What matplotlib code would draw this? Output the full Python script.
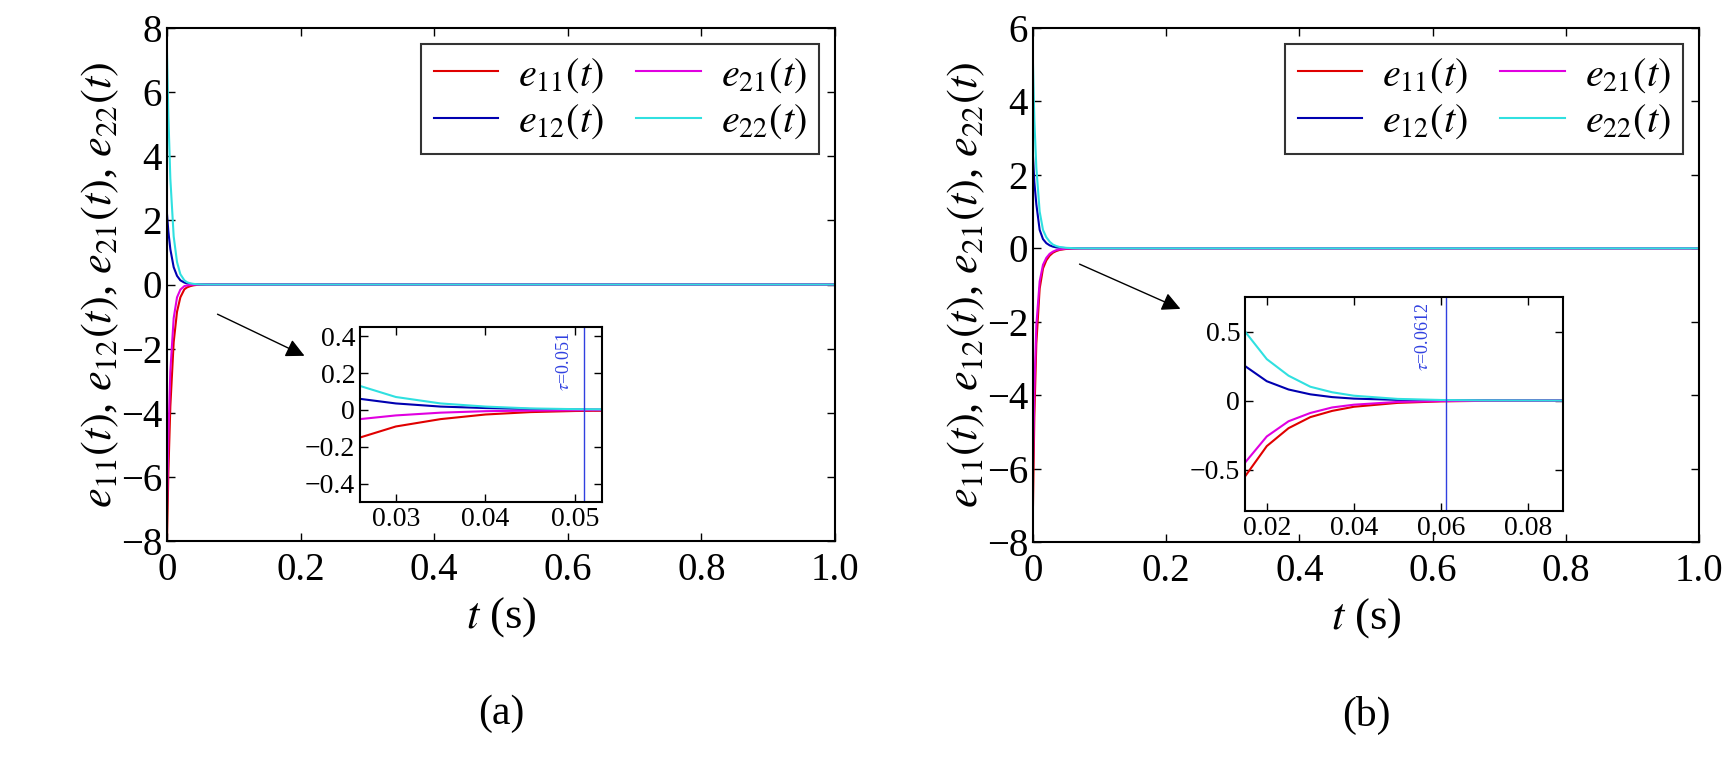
import matplotlib
matplotlib.use("Agg")
import matplotlib.pyplot as plt

plt.rcParams['font.family'] = ['Liberation Serif', 'DejaVu Serif']
plt.rcParams['mathtext.fontset'] = 'stix'

# Panel (a) sampled data
ta = [0, .002, .005, .01, .015, .02, .026, .03, .035, .04, .045, .05, .06, .09, 1.0]
a_e11 = [-8, -5.9, -3.8, -1.8, -0.85, -0.4, -0.15, -0.09, -0.05, -0.025, -0.012, -0.006, -0.001, 0, 0]
a_e21 = [-7, -4.8, -2.7, -1.05, -0.4, -0.16, -0.05, -0.03, -0.015, -0.007, -0.004, -0.002, 0, 0, 0]
a_e12 = [2.2, 1.66, 1.1, 0.54, 0.27, 0.13, 0.06, 0.035, 0.018, 0.01, 0.005, 0.002, 0, 0, 0]
a_e22 = [7.2, 5.3, 3.3, 1.5, 0.7, 0.32, 0.13, 0.07, 0.035, 0.018, 0.008, 0.004, 0, 0, 0]
tau_a = 0.051

# Panel (b) sampled data
tb = [0, .002, .005, .01, .015, .02, .025, .03, .035, .04, .05, .06, .07, .09, 1.0]
b_e11 = [-7, -4.6, -2.6, -1.1, -0.55, -0.33, -0.2, -0.12, -0.075, -0.045, -0.017, -0.006, -0.002, 0, 0]
b_e21 = [-6, -3.9, -2.1, -0.9, -0.45, -0.26, -0.15, -0.09, -0.05, -0.03, -0.01, -0.004, -0.001, 0, 0]
b_e12 = [2.5, 1.8, 1.2, 0.5, 0.25, 0.14, 0.08, 0.045, 0.025, 0.014, 0.005, 0.002, 0.001, 0, 0]
b_e22 = [5, 3.5, 2.2, 1.0, 0.5, 0.3, 0.18, 0.1, 0.06, 0.035, 0.012, 0.004, 0.001, 0, 0]
tau_b = 0.0612

colors = {'e11': '#e00000', 'e12': '#0000b0', 'e21': '#e000e0', 'e22': '#30e0e0'}
labels = {'e11': r'$e_{11}(t)$', 'e12': r'$e_{12}(t)$', 'e21': r'$e_{21}(t)$', 'e22': r'$e_{22}(t)$'}
W, H = 1732, 757
fig = plt.figure(figsize=(W/100, H/100), dpi=100)

def px(l, t, r, b):
    return [l/W, 1-b/H, (r-l)/W, (b-t)/H]

def style(ax, size):
    ax.tick_params(direction='in', top=True, right=True, labelsize=size, length=6, width=1)
    for s in ax.spines.values():
        s.set_linewidth(1.5)

def panel(rect, inrect, t, data, ylim, yticks, inxlim, inylim, inxt, inyt, inxtl, tau, taulab, arrow, letter, inlabel):
    ax = fig.add_axes(px(*rect))
    for k in ['e11', 'e12', 'e21', 'e22']:
        ax.plot(t, data[k], color=colors[k], lw=1.5, label=labels[k])
    ax.set_xlim(0, 1.0)
    ax.set_ylim(*ylim)
    ax.set_yticks(yticks)
    ax.set_yticklabels([str(v).replace('-', '\u2212') for v in yticks])
    ax.set_xticks([0, 0.2, 0.4, 0.6, 0.8, 1.0])
    ax.set_xticklabels(['0', '0.2', '0.4', '0.6', '0.8', '1.0'])
    style(ax, 28)
    ax.tick_params(axis='x', pad=8)
    ax.legend(ncol=2, loc='upper right',
              fontsize=29, frameon=True, fancybox=False, edgecolor='black',
              handlelength=1.6, handletextpad=0.5, columnspacing=0.8, borderaxespad=0.4,
              labelspacing=0.2, borderpad=0.3
              ).get_frame().set_linewidth(1.5)
    ax.set_xlabel(r'$t$ (s)', fontsize=32, labelpad=4)
    ax.set_ylabel(r'$e_{11}(t)$, $e_{12}(t)$, $e_{21}(t)$, $e_{22}(t)$', fontsize=32, labelpad=0)
    ax.text(0.5, -0.3, letter, transform=ax.transAxes, ha='center', va='top', fontsize=30)
    ax.annotate('', xy=arrow[1], xytext=arrow[0], xycoords='figure pixels',
                arrowprops=dict(arrowstyle='-|>', color='black', lw=1, mutation_scale=28))
    ia = fig.add_axes(px(*inrect))
    for k in ['e11', 'e12', 'e21', 'e22']:
        ia.plot(t, data[k], color=colors[k], lw=1.5)
    ia.axvline(tau, color='#3040e0', lw=1)
    ia.text(tau - 0.0012*(inxlim[1]-inxlim[0])/0.027, inylim[1] - 0.03*(inylim[1]-inylim[0]), taulab,
            rotation=90, color='#3040e0', fontsize=13, ha='right', va='top')
    ia.set_xlim(*inxlim)
    ia.set_ylim(*inylim)
    ia.set_xticks(inxt)
    ia.set_xticklabels(inxtl)
    ia.set_yticks(inyt)
    ia.set_yticklabels(inlabel)
    style(ia, 20)

panel((167, 28, 835, 541), (360, 327, 602, 502), ta,
      {'e11': a_e11, 'e12': a_e12, 'e21': a_e21, 'e22': a_e22},
      (-8, 8), [-8, -6, -4, -2, 0, 2, 4, 6, 8], (0.026, 0.053), (-0.5, 0.45),
      [0.03, 0.04, 0.05], [-0.4, -0.2, 0, 0.2, 0.4], ['0.03', '0.04', '0.05'],
      tau_a, r'$\tau$=0.051', ((215, H-313), (307, H-357)), '(a)',
      ['\u22120.4', '\u22120.2', '0', '0.2', '0.4'])

panel((1033, 28, 1699, 542), (1245, 297, 1563, 511), tb,
      {'e11': b_e11, 'e12': b_e12, 'e21': b_e21, 'e22': b_e22},
      (-8, 6), [-8, -6, -4, -2, 0, 2, 4, 6], (0.015, 0.088), (-0.8, 0.75),
      [0.02, 0.04, 0.06, 0.08], [-0.5, 0, 0.5], ['0.02', '0.04', '0.06', '0.08'],
      tau_b, r'$\tau$=0.0612', ((1077, H-263), (1183, H-310)), '(b)',
      ['\u22120.5', '0', '0.5'])

fig.savefig('out.png', dpi=100)
